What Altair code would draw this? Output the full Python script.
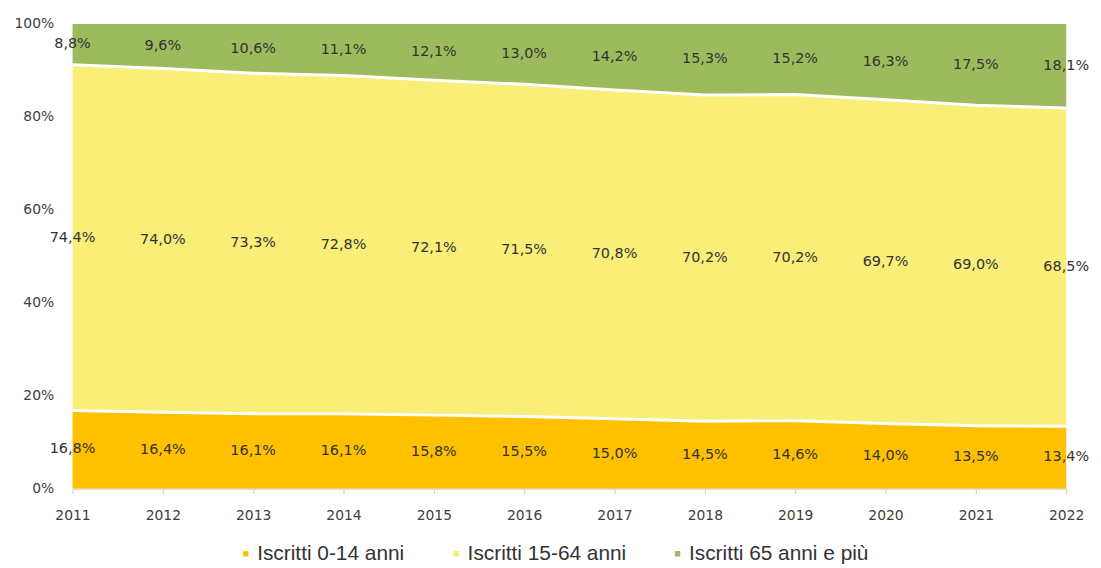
import altair as alt
import pandas as pd

years = list(range(2011, 2023))
s014 = [16.8, 16.4, 16.1, 16.1, 15.8, 15.5, 15.0, 14.5, 14.6, 14.0, 13.5, 13.4]
s1564 = [74.4, 74.0, 73.3, 72.8, 72.1, 71.5, 70.8, 70.2, 70.2, 69.7, 69.0, 68.5]
s65 = [8.8, 9.6, 10.6, 11.1, 12.1, 13.0, 14.2, 15.3, 15.2, 16.3, 17.5, 18.1]
series = ["Iscritti 0-14 anni", "Iscritti 15-64 anni", "Iscritti 65 anni e più"]
colors = ["#FFC000", "#F8EE78", "#9DBB5C"]

rows = []
lines = []
for i, y in enumerate(years):
    vals = [s014[i], s1564[i], s65[i]]
    tot = sum(vals)
    cum = 0.0
    for k, (name, v) in enumerate(zip(series, vals)):
        lo = cum / tot
        hi = (cum + v) / tot
        rows.append({"year": y, "serie": name, "order": k, "lo": lo, "hi": hi,
                     "mid": (lo + hi) / 2,
                     "label": f"{v:.1f}".replace(".", ",") + "%"})
        cum += v
        if k < 2:
            lines.append({"year": y, "b": k, "val": hi})
df = pd.DataFrame(rows)
dl = pd.DataFrame(lines)

font = "DejaVu Sans"
xenc = alt.X("year:Q", scale=alt.Scale(domain=[2011, 2022], nice=False, zero=False),
             axis=alt.Axis(values=years, format="d", title=None, grid=False,
                           domainColor="#c8c8c8", tickColor="#c8c8c8", tickSize=5,
                           labelFont=font, labelFontSize=14, labelColor="#404040",
                           labelPadding=15, labelFlush=False, labelOverlap=False))

area = alt.Chart(df).mark_area(opacity=1).encode(
    x=xenc,
    y=alt.Y("lo:Q", scale=alt.Scale(domain=[0, 1]),
            axis=alt.Axis(values=[0, 0.2, 0.4, 0.6, 0.8, 1.0], format=".0%", title=None,
                          domain=False, ticks=False, grid=True, gridColor="#e6e6e6",
                          labelFont=font, labelFontSize=14, labelColor="#404040",
                          labelPadding=19)),
    y2="hi:Q",
    color=alt.Color("serie:N", scale=alt.Scale(domain=series, range=colors),
                    legend=alt.Legend(title=None, orient="none", direction="horizontal",
                                      legendX=164, legendY=523, symbolType="square",
                                      symbolSize=30, labelFont="Liberation Sans",
                                      labelFontSize=21, labelColor="#333333",
                                      labelOffset=1, columnPadding=41, labelLimit=0,
                                      symbolStrokeWidth=0)),
    order="order:Q",
    detail="serie:N",
)

sep = alt.Chart(dl).mark_line(color="white", strokeWidth=3).encode(
    x="year:Q", y="val:Q", detail="b:N")

text = alt.Chart(df).mark_text(font=font, fontSize=14.5, color="#333333").encode(
    x="year:Q", y="mid:Q", text="label:N")

chart = (area + sep + text).properties(
    width=1001, height=468, autosize="none",
    padding={"left": 65, "top": 14, "right": 27, "bottom": 78},
).configure_view(stroke=None)

chart.save("out.html", embed_options={"renderer": "svg", "actions": False})
